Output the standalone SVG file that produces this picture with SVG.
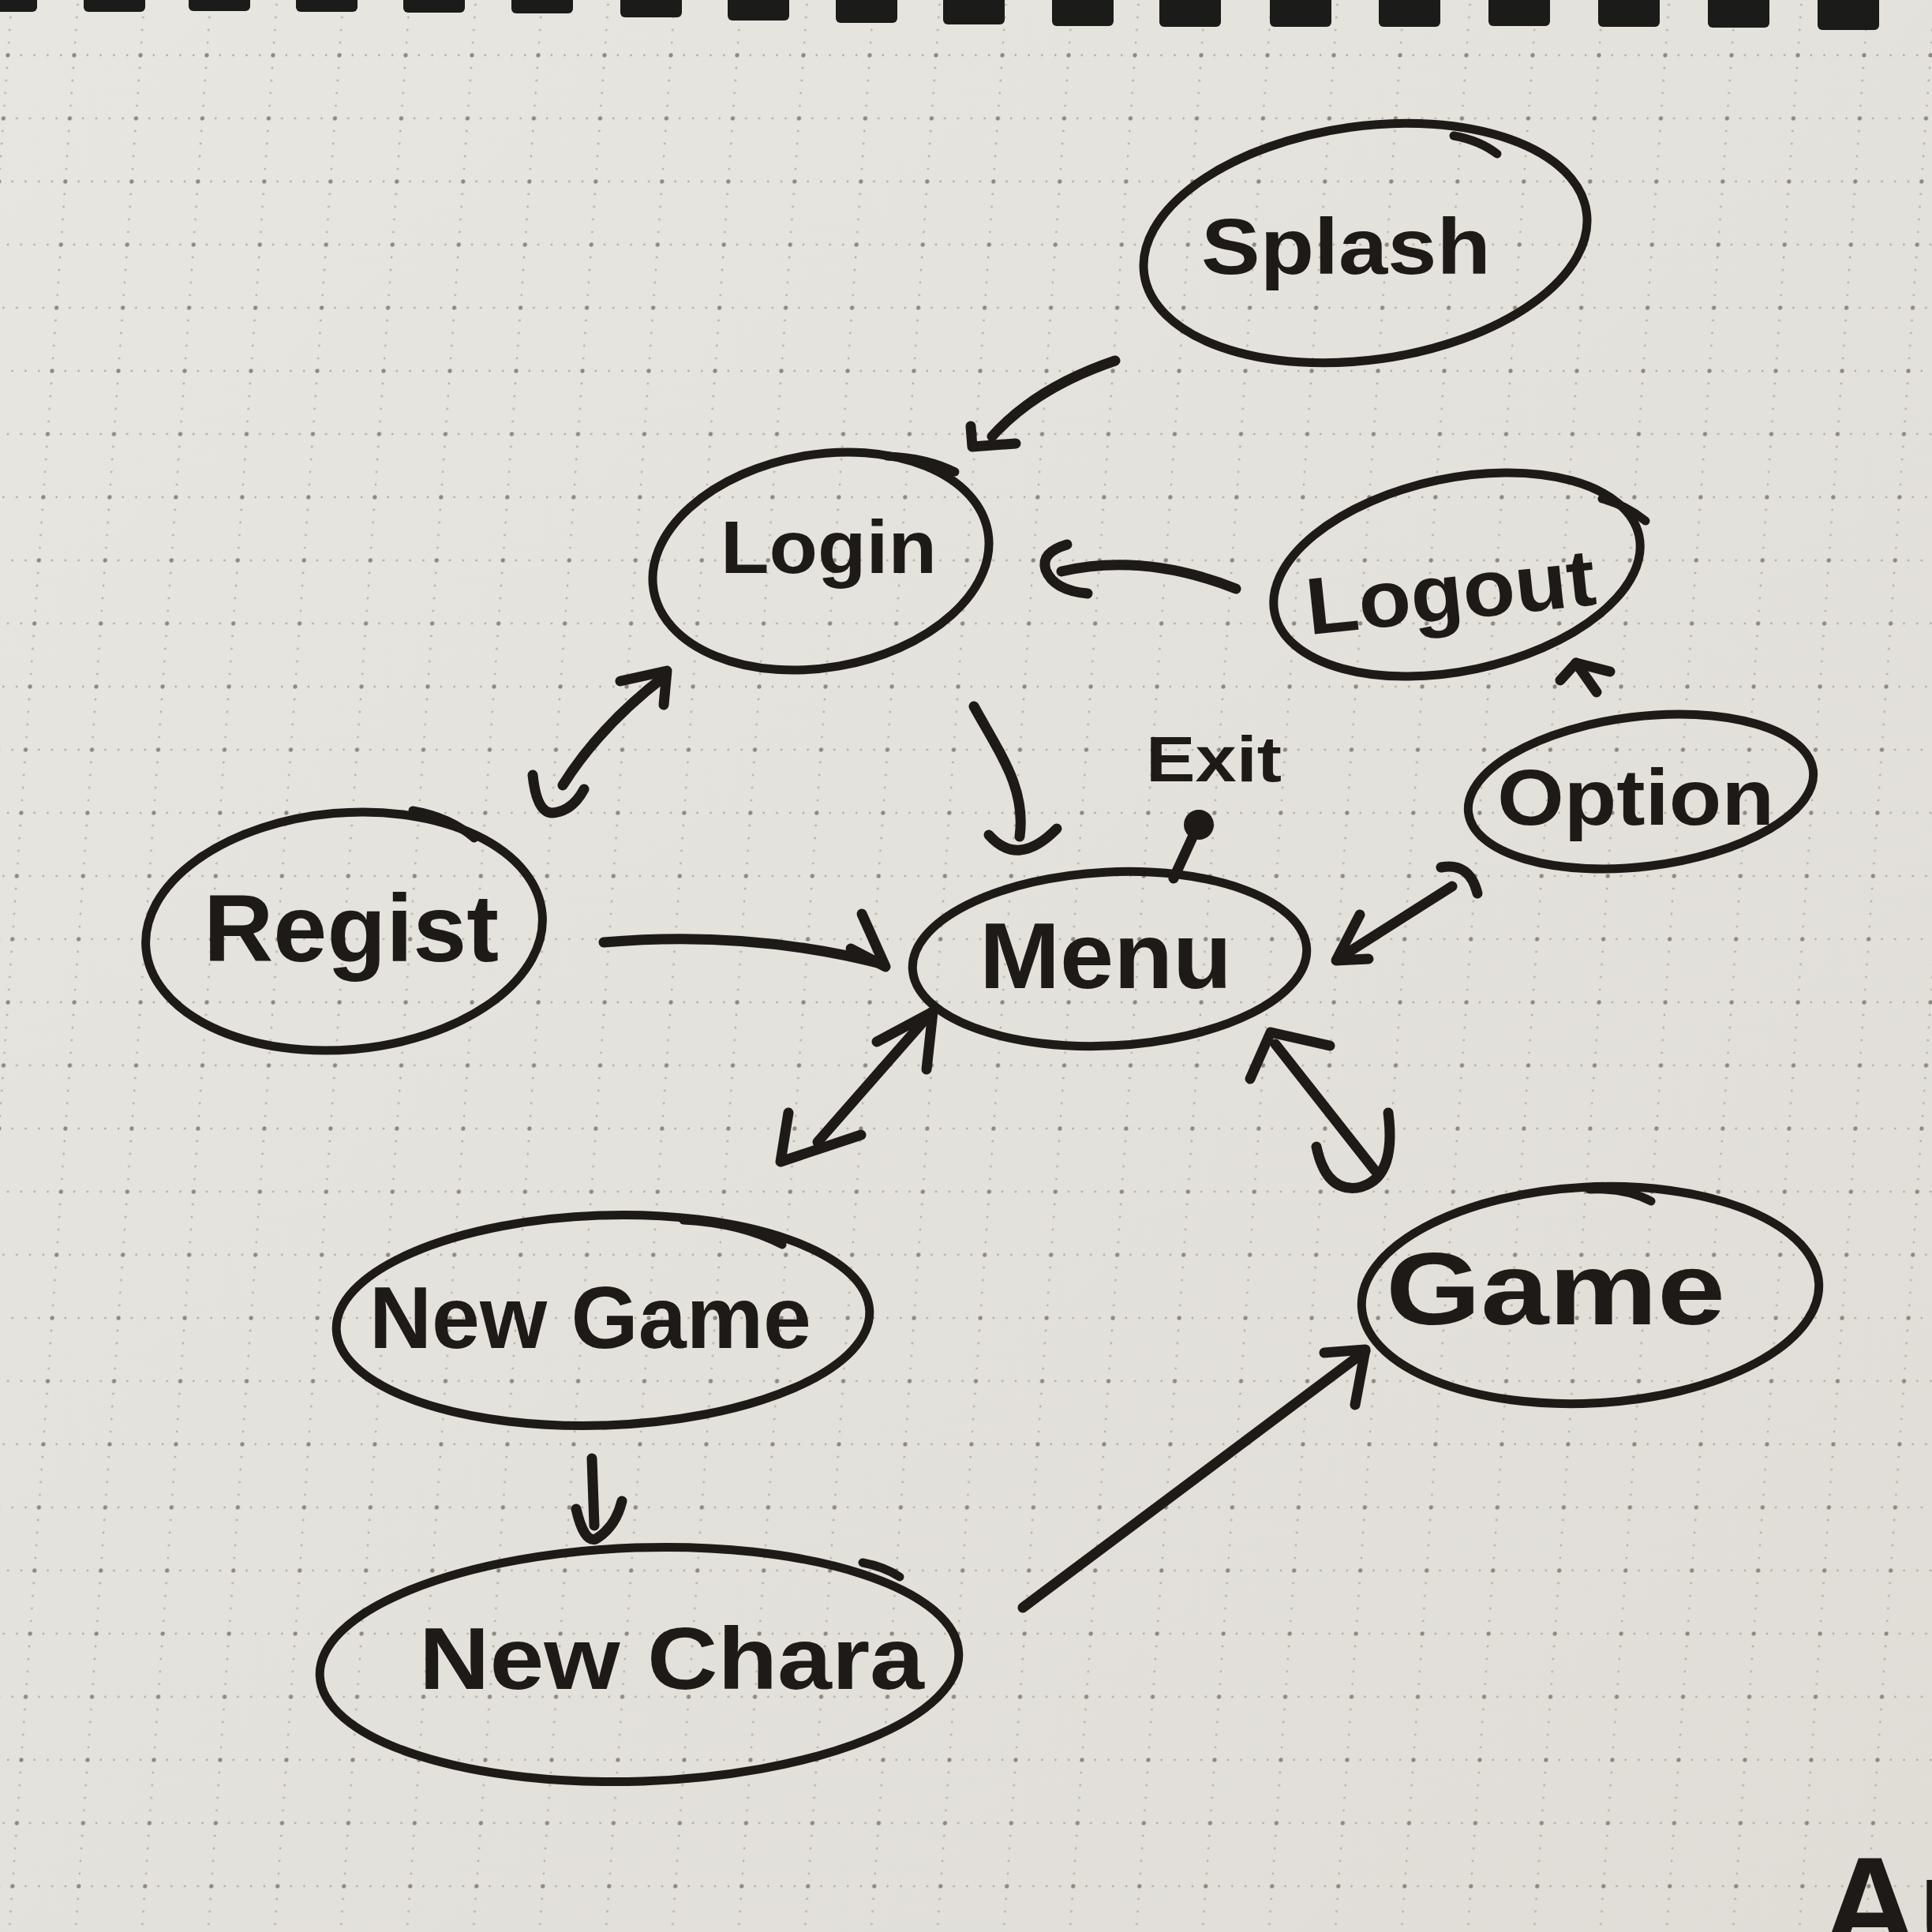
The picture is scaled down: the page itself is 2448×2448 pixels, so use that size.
<svg xmlns="http://www.w3.org/2000/svg" width="2448" height="2448" viewBox="0 0 2448 2448">
<defs>
<linearGradient id="paper" x1="0" y1="0" x2="1" y2="1">
<stop offset="0" stop-color="#e8e6e0"/>
<stop offset="1" stop-color="#dfddd6"/>
</linearGradient>
<pattern id="grid" width="84" height="80" patternUnits="userSpaceOnUse" patternTransform="translate(10,70) skewX(-4)">
<g fill="#b6b1a7">
<circle cx="16.8" cy="0" r="1.4"/><circle cx="33.6" cy="0" r="1.4"/><circle cx="50.4" cy="0" r="1.4"/><circle cx="67.2" cy="0" r="1.4"/>
<circle cx="16.8" cy="80" r="1.4"/><circle cx="33.6" cy="80" r="1.4"/><circle cx="50.4" cy="80" r="1.4"/><circle cx="67.2" cy="80" r="1.4"/>
<circle cx="0" cy="16" r="1.4"/><circle cx="0" cy="32" r="1.4"/><circle cx="0" cy="48" r="1.4"/><circle cx="0" cy="64" r="1.4"/>
<circle cx="84" cy="16" r="1.4"/><circle cx="84" cy="32" r="1.4"/><circle cx="84" cy="48" r="1.4"/><circle cx="84" cy="64" r="1.4"/>
</g>
<g fill="#8e897f">
<circle cx="0" cy="0" r="2.6"/><circle cx="84" cy="0" r="2.6"/><circle cx="0" cy="80" r="2.6"/><circle cx="84" cy="80" r="2.6"/>
</g>
</pattern>
<style>
.shape{fill:none;stroke:#1d1a17;stroke-width:11;stroke-linecap:round;stroke-linejoin:round}
.ink{fill:none;stroke:#1d1a17;stroke-width:13;stroke-linecap:round;stroke-linejoin:round}
.lbl{font-family:"Liberation Sans","DejaVu Sans",sans-serif;font-weight:700;fill:#1d1a17}
.hole{fill:#1b1b1a}
</style>
</defs>

<rect x="0" y="0" width="2448" height="2448" fill="url(#paper)"/>
<rect x="0" y="0" width="2448" height="2448" fill="url(#grid)"/>

<g id="binding">
<rect class="hole" x="-10" y="-10" width="57" height="25" rx="6"/>
<rect class="hole" x="106" y="-10" width="78" height="25" rx="6"/>
<rect class="hole" x="239" y="-10" width="78" height="24" rx="6"/>
<rect class="hole" x="375" y="-10" width="78" height="25" rx="6"/>
<rect class="hole" x="511" y="-10" width="78" height="26" rx="6"/>
<rect class="hole" x="648" y="-10" width="78" height="27" rx="6"/>
<rect class="hole" x="786" y="-10" width="78" height="32" rx="6"/>
<rect class="hole" x="922" y="-10" width="78" height="36" rx="6"/>
<rect class="hole" x="1059" y="-10" width="78" height="39" rx="6"/>
<rect class="hole" x="1195" y="-10" width="78" height="41" rx="6"/>
<rect class="hole" x="1333" y="-10" width="78" height="43" rx="6"/>
<rect class="hole" x="1469" y="-10" width="78" height="44" rx="6"/>
<rect class="hole" x="1609" y="-10" width="78" height="44" rx="6"/>
<rect class="hole" x="1747" y="-10" width="78" height="44" rx="6"/>
<rect class="hole" x="1886" y="-10" width="78" height="43" rx="6"/>
<rect class="hole" x="2025" y="-10" width="78" height="44" rx="6"/>
<rect class="hole" x="2164" y="-10" width="78" height="45" rx="6"/>
<rect class="hole" x="2303" y="-10" width="78" height="48" rx="6"/>
</g>

<g id="connectors">
<!-- Splash -> Login -->
<path class="ink" d="M1413,457 C1360,475 1300,505 1257,553"/>
<path class="ink" d="M1230,540 L1232,566 L1287,562"/>
<!-- Logout -> Login -->
<path class="ink" d="M1345,724 Q1450,700 1566,746"/>
<path class="ink" d="M1352,690 Q1318,700 1325,722 Q1335,748 1378,752"/>
<!-- Login -> Menu (cup end) -->
<path class="ink" d="M1234,895 C1270,960 1300,1000 1292,1060"/>
<path class="ink" d="M1253,1058 Q1290,1100 1339,1050"/>
<!-- Exit -->
<path class="ink" d="M1487,1113 L1516,1050"/>
<circle cx="1519" cy="1045" r="19" fill="#1d1a17"/>
<!-- Option <-> Menu -->
<path class="ink" d="M1700,1212 L1840,1123"/>
<path class="ink" d="M1723,1159 L1693,1217 L1734,1215"/>
<path class="ink" d="M1826,1099 Q1862,1092 1872,1132"/>
<!-- Option -> Logout -->
<path class="ink" d="M1977,862 L1997,840 L2040,851"/>
<path class="ink" d="M1997,840 L2023,877"/>
<!-- Login <-> Regist -->
<path class="ink" d="M713,995 Q760,920 842,857"/>
<path class="ink" d="M786,863 L845,850 L841,893"/>
<path class="ink" d="M675,982 Q680,1030 700,1030 Q725,1028 740,1000"/>
<!-- Regist -> Menu -->
<path class="ink" d="M765,1194 Q950,1178 1120,1222"/>
<path class="ink" d="M1092,1158 L1122,1225 L1078,1202"/>
<!-- Menu <-> New Game -->
<path class="ink" d="M1036,1447 L1180,1283"/>
<path class="ink" d="M1111,1320 L1182,1282 L1174,1355"/>
<path class="ink" d="M999,1410 L989,1472 L1091,1438"/>
<!-- Menu <-> Game -->
<path class="ink" d="M1616,1323 L1742,1483"/>
<path class="ink" d="M1584,1367 L1610,1308 L1685,1325"/>
<path class="ink" d="M1668,1453 Q1680,1510 1720,1505 Q1770,1495 1759,1410"/>
<!-- New Game -> New Chara -->
<path class="ink" d="M750,1848 L753,1933"/>
<path class="ink" d="M730,1912 Q740,1955 755,1950 Q780,1935 788,1902"/>
<!-- New Chara -> Game -->
<path class="ink" d="M1296,2037 L1730,1712"/>
<path class="ink" d="M1678,1714 L1730,1710 L1717,1780"/>
</g>

<g id="node-splash">
<ellipse class="shape" cx="1730" cy="308" rx="283" ry="148" transform="rotate(-8 1730 308)"/>
<path class="shape" d="M1842,172 Q1875,178 1897,195"/>
<text class="lbl" x="1522" y="347" font-size="100" textLength="367" lengthAdjust="spacingAndGlyphs">Splash</text>
</g>

<g id="node-login">
<ellipse class="shape" cx="1040" cy="711" rx="215" ry="135" transform="rotate(-10 1040 711)"/>
<path class="shape" d="M1124,578 Q1175,580 1210,598"/>
<text class="lbl" x="913" y="726" font-size="95" textLength="274" lengthAdjust="spacingAndGlyphs">Login</text>
</g>

<g id="node-logout">
<ellipse class="shape" cx="1846" cy="728" rx="236" ry="122" transform="rotate(-12 1846 728)"/>
<path class="shape" d="M2030,632 Q2060,640 2085,660"/>
<text class="lbl" x="1655" y="785" font-size="102" textLength="368" lengthAdjust="spacingAndGlyphs" transform="rotate(-6 1840 760)">Logout</text>
</g>

<g id="node-option">
<ellipse class="shape" cx="2079" cy="1003" rx="220" ry="95" transform="rotate(-7 2079 1003)"/>
<text class="lbl" x="1897" y="1045" font-size="100" textLength="351" lengthAdjust="spacingAndGlyphs">Option</text>
</g>

<g id="node-regist">
<ellipse class="shape" cx="436" cy="1180" rx="252" ry="150" transform="rotate(-5 436 1180)"/>
<path class="shape" d="M523,1027 Q570,1035 601,1062"/>
<text class="lbl" x="258" y="1218" font-size="120" textLength="374" lengthAdjust="spacingAndGlyphs">Regist</text>
</g>

<g id="node-menu">
<ellipse class="shape" cx="1406" cy="1215" rx="250" ry="110" transform="rotate(-3 1406 1215)"/>
<text class="lbl" x="1241" y="1252" font-size="118" textLength="320" lengthAdjust="spacingAndGlyphs">Menu</text>
</g>

<g id="node-exit">
<text class="lbl" x="1452" y="990" font-size="82" textLength="172" lengthAdjust="spacingAndGlyphs">Exit</text>
</g>

<g id="node-newgame">
<ellipse class="shape" cx="764" cy="1673" rx="338" ry="133" transform="rotate(-2 764 1673)"/>
<path class="shape" d="M866,1546 Q940,1550 991,1577"/>
<text class="lbl" x="468" y="1708" font-size="112" textLength="560" lengthAdjust="spacingAndGlyphs">New Game</text>
</g>

<g id="node-newchara">
<ellipse class="shape" cx="810" cy="2109" rx="405" ry="148" transform="rotate(-2 810 2109)"/>
<path class="shape" d="M1093,1980 Q1120,1985 1140,1998"/>
<text class="lbl" x="531" y="2140" font-size="112" textLength="640" lengthAdjust="spacingAndGlyphs">New Chara</text>
</g>

<g id="node-game">
<ellipse class="shape" cx="2015" cy="1641" rx="290" ry="137" transform="rotate(-3 2015 1641)"/>
<path class="shape" d="M2014,1507 Q2060,1505 2092,1522"/>
<text class="lbl" x="1756" y="1678" font-size="130" textLength="430" lengthAdjust="spacingAndGlyphs">Game</text>
</g>

<g id="corner-text">
<text class="lbl" x="2308" y="2472" font-size="170">Au</text>
</g>
</svg>
